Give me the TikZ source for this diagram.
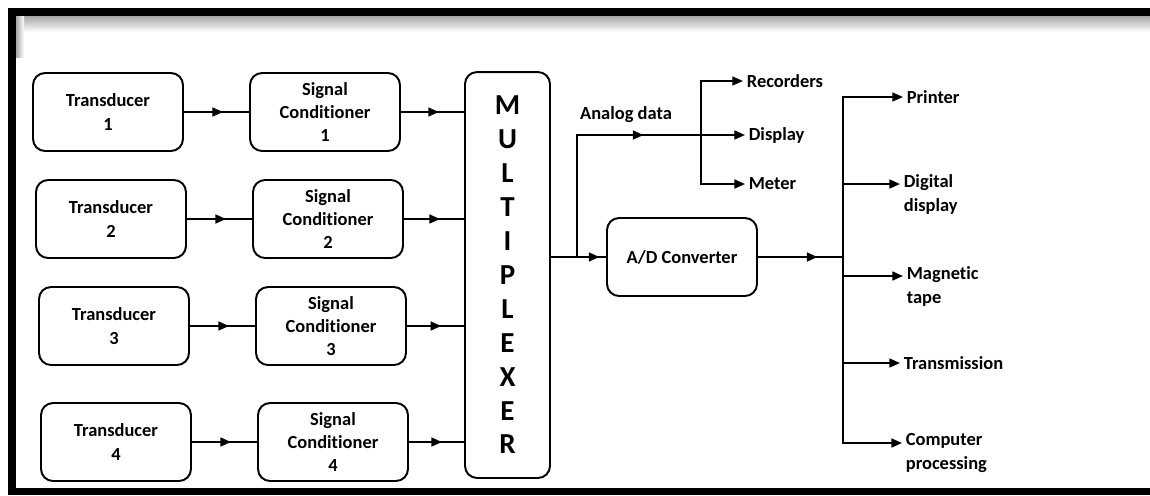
\documentclass[tikz,border=0pt]{standalone}
\usepackage{fontspec}
\setmainfont{Carlito}[Ligatures={NoCommon}]
\usetikzlibrary{arrows.meta,calc,decorations.markings}

\tikzset{
  box/.style={draw, line width=1.1pt, rounded corners=0.24cm, minimum width=3cm, minimum height=1.56cm, align=center},
  wire/.style={line width=1.1pt},
  tip/.style={-{Triangle[length=6pt,width=5pt]}},
  midarrow/.style={postaction={decorate}, decoration={markings, mark=at position #1 with {\arrow{Triangle[length=6pt,width=5pt]}}}},
  lbl/.style={inner sep=2pt, align=left},
}

\begin{document}
\begin{tikzpicture}[x=0.02cm, y=-0.02cm, font=\bfseries\fontsize{10.5}{13.2}\selectfont]
  \useasboundingbox (0,0) rectangle (1150,495);
  % frame with shadow
  \shade[top color=gray!70, bottom color=white] (16,16) rectangle (1150,32);
  \shade[left color=gray!70, right color=white] (16,16) rectangle (24,57);
  \fill (8,8) rectangle (1150,16);
  \fill (8,8) rectangle (16,495);
  \fill (8,488) rectangle (1150,495);

  % transducers
  \node[box] (t1) at (108,112) {Transducer\\1};
  \node[box] (t2) at (111,219) {Transducer\\2};
  \node[box] (t3) at (114,326) {Transducer\\3};
  \node[box] (t4) at (116,442) {Transducer\\4};
  % signal conditioners
  \node[box] (sc1) at (325,112) {Signal\\Conditioner\\1};
  \node[box] (sc2) at (328,219) {Signal\\Conditioner\\2};
  \node[box] (sc3) at (331,326) {Signal\\Conditioner\\3};
  \node[box] (sc4) at (333,442) {Signal\\Conditioner\\4};
  % multiplexer
  \node[box, minimum width=1.7cm, minimum height=8.12cm, font=\bfseries\fontsize{16.5}{19.3}\selectfont] (mux) at (507.5,275) {M\\U\\L\\T\\I\\P\\L\\E\\X\\E\\R};

  \draw[wire, midarrow=0.6] (t1.east) -- (t1.east -| sc1.west);
  \draw[wire, midarrow=0.6] (t2.east) -- (t2.east -| sc2.west);
  \draw[wire, midarrow=0.6] (t3.east) -- (t3.east -| sc3.west);
  \draw[wire, midarrow=0.6] (t4.east) -- (t4.east -| sc4.west);
  \draw[wire, midarrow=0.6] (sc1.east) -- (sc1.east -| mux.west);
  \draw[wire, midarrow=0.6] (sc2.east) -- (sc2.east -| mux.west);
  \draw[wire, midarrow=0.6] (sc3.east) -- (sc3.east -| mux.west);
  \draw[wire, midarrow=0.6] (sc4.east) -- (sc4.east -| mux.west);

  % a/d converter
  \node[box] (adc) at (682,257) {A/D Converter};
  \draw[wire, midarrow=0.88] (mux.east |- adc) -- (adc.west);

  % analog branch
  \coordinate (jan) at (577,257);
  \coordinate (jdist) at (701,135);
  \node (analog) at (626,115) {Analog data};
  \node[lbl, anchor=west] (rec) at (743,81) {Recorders};
  \node[lbl, anchor=west] (disp) at (745,135) {Display};
  \node[lbl, anchor=west] (met) at (745,184) {Meter};
  \draw[wire, tip, midarrow=0.65] (jan) |- (disp.west);
  \draw[wire, tip] (jdist) |- (rec.west);
  \draw[wire, tip] (jdist) |- (met.west);

  % digital branch
  \coordinate (jout) at (843,257);
  \draw[wire, midarrow=0.7] (adc.east) -- (jout);
  \coordinate (tdig) at (900,184);
  \coordinate (tmag) at (903,276);
  \coordinate (tcomp) at (902,443);
  \node[lbl, anchor=west] (prn) at (903,97) {Printer};
  \node[lbl, anchor=north west] (dig) at ($(tdig)+(0,-13)$) {Digital\\display};
  \node[lbl, anchor=north west] (mag) at ($(tmag)+(0,-13)$) {Magnetic\\tape};
  \node[lbl, anchor=west] (trans) at (900,363) {Transmission};
  \node[lbl, anchor=north west] (comp) at ($(tcomp)+(0,-13)$) {Computer\\processing};
  \draw[wire, tip] (jout) |- (prn.west);
  \draw[wire, tip] (jout) |- (tdig);
  \draw[wire, tip] (jout) |- (tmag);
  \draw[wire, tip] (jout) |- (trans.west);
  \draw[wire, tip] (jout) |- (tcomp);
\end{tikzpicture}
\end{document}
